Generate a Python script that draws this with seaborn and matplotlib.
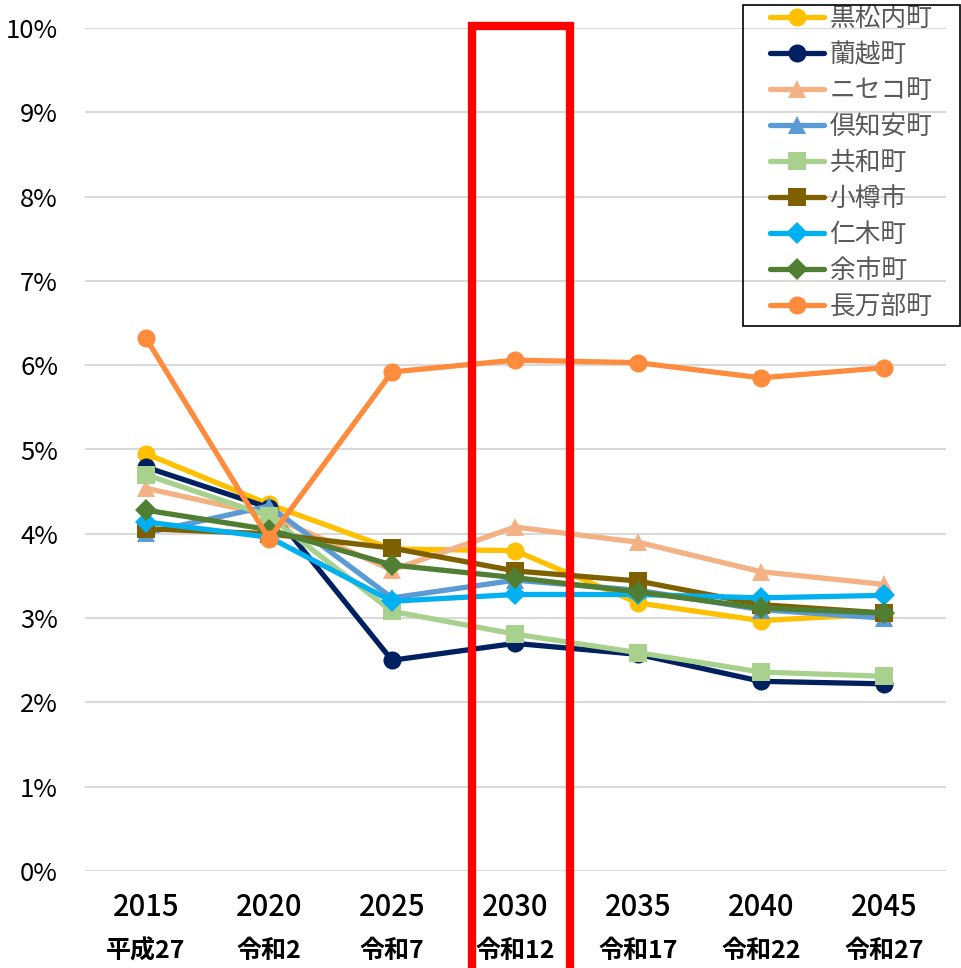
import matplotlib
matplotlib.use("Agg")
import matplotlib.pyplot as plt
import seaborn as sns
import pandas as pd
from matplotlib.patches import Rectangle
from matplotlib.ticker import FuncFormatter, MultipleLocator

years = ["2015", "2020", "2025", "2030", "2035", "2040", "2045"]
eras = ["平成27", "令和2", "令和7", "令和12", "令和17", "令和22", "令和27"]

kuromatsunai = [4.95, 4.35, 3.82, 3.80, 3.18, 2.97, 3.05]
rankoshi = [4.79, 4.31, 2.50, 2.70, 2.57, 2.25, 2.22]
niseko = [4.54, 4.22, 3.57, 4.08, 3.90, 3.55, 3.40]
kutchan = [4.01, 4.33, 3.24, 3.45, 3.33, 3.10, 3.00]
kyowa = [4.70, 4.21, 3.08, 2.81, 2.59, 2.36, 2.31]
otaru = [4.06, 4.00, 3.83, 3.56, 3.44, 3.16, 3.06]
niki = [4.14, 3.96, 3.20, 3.28, 3.28, 3.24, 3.27]
yoichi = [4.28, 4.05, 3.63, 3.48, 3.31, 3.12, 3.06]
oshamambe = [6.32, 3.94, 5.92, 6.06, 6.03, 5.85, 5.97]

series_names = ["黒松内町", "蘭越町", "ニセコ町", "倶知安町", "共和町", "小樽市", "仁木町", "余市町", "長万部町"]
series_values = [kuromatsunai, rankoshi, niseko, kutchan, kyowa, otaru, niki, yoichi, oshamambe]
colors = ["#FFC000", "#002060", "#F4B183", "#5B9BD5", "#A9D18E", "#7F6000", "#00B0F0", "#507E32", "#FF8B3D"]
markers = ["o", "o", "^", "^", "s", "s", "D", "D", "o"]
msizes = [13, 13, 13, 13, 13, 13, 11, 11, 13]

sns.set_theme(style="white")
plt.rcParams["font.family"] = ["Noto Sans CJK JP", "DejaVu Sans"]

W, H = 961, 968
fig = plt.figure(figsize=(W / 100, H / 100), dpi=100)
ax = fig.add_axes([84.5 / W, 1 - 871 / H, (945.5 - 84.5) / W, (871 - 28) / H])

pos = list(range(len(years)))
for name, vals, c, m, ms in zip(series_names, series_values, colors, markers, msizes):
    df = pd.DataFrame({"x": pos, "y": vals})
    sns.lineplot(data=df, x="x", y="y", ax=ax, color=c, linewidth=3.8,
                 marker=m, markersize=ms, markeredgewidth=0, label=name)

ax.set_xlim(-0.5, len(years) - 0.5)
ax.set_ylim(0, 10)
ax.yaxis.set_major_locator(MultipleLocator(1))
ax.yaxis.set_major_formatter(FuncFormatter(lambda v, p: f"{int(round(v))}%"))
ax.grid(axis="y", color="#D9D9D9", linewidth=1.5)
ax.grid(axis="x", visible=False)
for s in ax.spines.values():
    s.set_visible(False)
ax.set_xlabel("")
ax.set_ylabel("")
ax.set_xticks(pos)
ax.set_xticklabels([])
ax.tick_params(axis="y", length=0, pad=19, labelsize=18.5, labelcolor="black")
ax.tick_params(axis="x", length=0)

trans = ax.get_xaxis_transform()
for i, (yr, er) in enumerate(zip(years, eras)):
    ax.text(i, -36 / 843, yr, transform=trans, ha="center", va="center",
            fontsize=21, color="black", fontweight="medium")
    ax.text(i, -80 / 843, er, transform=trans, ha="center", va="center",
            fontsize=18, color="black", fontweight="bold")

leg = ax.legend(loc="upper left", bbox_to_anchor=(770 / W, 1 - 6 / H),
                bbox_transform=fig.transFigure, frameon=False,
                fontsize=18.5, labelspacing=0.39, handlelength=2.1, handletextpad=0.22,
                borderpad=0, borderaxespad=0, labelcolor="#595959")

frame = Rectangle((743 / W, 1 - 326 / H), (960 - 743) / W, (326 - 5) / H,
                  transform=fig.transFigure, fill=False, edgecolor="black",
                  linewidth=1.2, zorder=5)
fig.patches.append(frame)

rect = Rectangle((472 / W, -0.05), (570 - 472) / W, 1.05 - 26 / H,
                 transform=fig.transFigure, fill=False, edgecolor="#FF0000",
                 linewidth=6, clip_on=False, zorder=10)
fig.patches.append(rect)

fig.savefig("out.png", dpi=100)
